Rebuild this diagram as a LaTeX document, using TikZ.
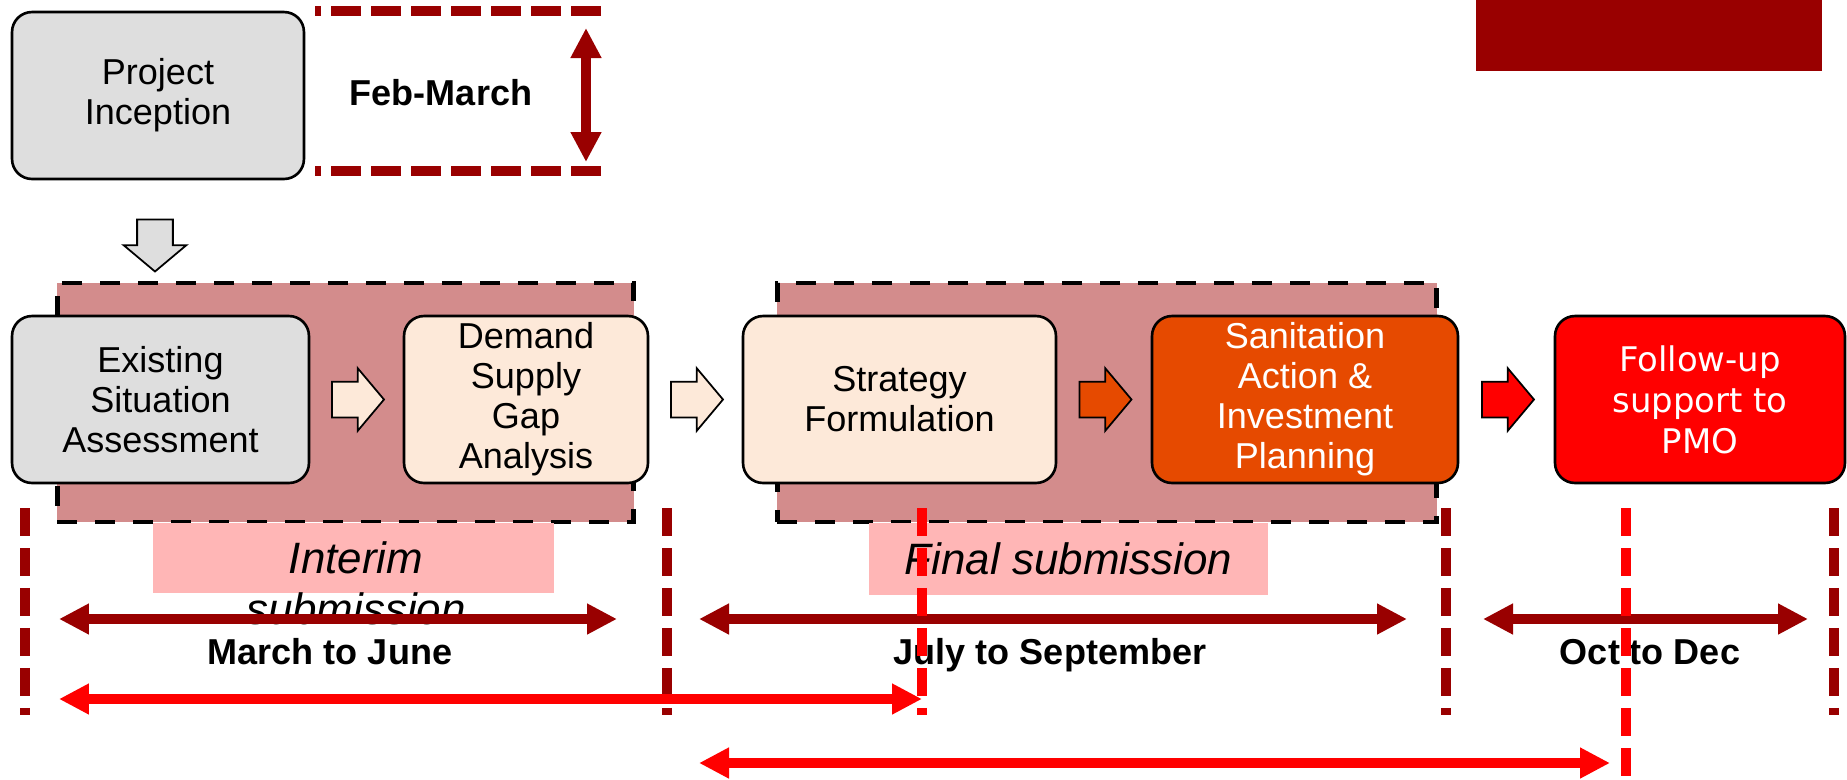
\documentclass[tikz,border=0pt]{standalone}
\usepackage{fontspec}
\setmainfont{Liberation Sans}
\newfontfamily\dejavu{DejaVu Sans}
\usepackage{tikz}
\usetikzlibrary{arrows.meta,positioning,calc,shapes.arrows}
\definecolor{darkred}{HTML}{990000}
\definecolor{brightred}{HTML}{FF0000}
\definecolor{boxgray}{HTML}{DEDEDE}
\definecolor{peach}{HTML}{FDE9D9}
\definecolor{burnt}{HTML}{E64A00}
\definecolor{rosefill}{HTML}{D38C8C}
\definecolor{pinklabel}{HTML}{FFB6B6}

\begin{document}
\begin{tikzpicture}[x=0.02cm, y=-0.02cm, every node/.style={font=\fontsize{20.5}{22.8}\selectfont}, box/.style={draw=black,line width=1.5pt,rounded corners=0.4cm,minimum height=3.34cm,align=center,inner sep=1pt}, blk/.style={single arrow,draw=black,line width=1pt,minimum height=1.04cm,single arrow head extend=0.27cm,single arrow tip angle=100,inner xsep=0pt,inner ysep=0.34cm}, grp/.style={fill=rosefill,draw=black,line width=2.8pt,dash pattern=on 0.4cm off 0.36cm,minimum height=4.78cm,inner sep=0pt}, tag/.style={fill=pinklabel,minimum height=1.4cm,inner sep=0pt}, lbl/.style={font=\fontsize{20.5}{22.8}\selectfont\bfseries,anchor=base,inner sep=0pt}, period/.style={line width=0.2cm,{Triangle[length=0.6cm,width=0.58cm]}-{Triangle[length=0.6cm,width=0.58cm]}}, gridline/.style={line width=0.2cm,dash pattern=on 0.56cm off 0.24cm}]
\useasboundingbox (0,0) rectangle (1847,779);
\node[fill=darkred,minimum width=6.92cm,minimum height=1.42cm,inner sep=0pt] (hdr) at (1649,35.5) {};
\node[grp,minimum width=11.54cm] (g1) at (345.5,402.5) {};
\node[grp,minimum width=13.2cm]  (g2) at (1107,402.5) {};

\node[box,fill=boxgray,minimum width=5.84cm] (pi) at (158,95.5) {Project\\Inception};
\coordinate (fm-tr) at (601,11);
\coordinate (fm-tl) at (315,11);
\coordinate (fm-br) at (601,171);
\coordinate (fm-bl) at (315,171);
\coordinate (fm-up) at (586,28);
\coordinate (fm-dn) at (586,162);
\draw[darkred,line width=0.19cm,dash pattern=on 0.6cm off 0.2cm] (fm-tr)--(fm-tl);
\draw[darkred,line width=0.19cm,dash pattern=on 0.6cm off 0.2cm] (fm-br)--(fm-bl);
\draw[period,darkred] (fm-up)--(fm-dn);
\node[lbl] (fm) at (441,105) {Feb-March};
\node[blk,fill=boxgray,shape border rotate=270,inner xsep=0.34cm,inner ysep=0pt,yshift=0.13cm] (dn) at (155,244.5) {};

\node[box,fill=boxgray,minimum width=5.94cm] (esa) at (160.5,399.5) {Existing\\Situation\\Assessment};
\node[box,fill=peach,minimum width=4.88cm]   (dsg) at (526,399.5)   {Demand\\Supply\\Gap\\Analysis};
\node[box,fill=peach,minimum width=6.26cm]   (sf)  at (899.5,399.5) {Strategy\\Formulation};
\node[box,fill=burnt,text=white,minimum width=6.12cm] (saip) at (1305,399.5) {Sanitation\\Action \&\\Investment\\Planning};
\node[box,fill=brightred,text=white,minimum width=5.8cm,font=\dejavu\fontsize{19.3}{23.3}\selectfont] (fus) at (1700,399.5) {Follow-up\\support to\\PMO};
\node[blk,fill=peach,xshift=-0.12cm]     (a1) at ($(esa.east)!.5!(dsg.west)$) {};
\node[blk,fill=peach,xshift=-0.12cm]     (a2) at ($(dsg.east)!.5!(sf.west)$) {};
\node[blk,fill=burnt,xshift=-0.12cm]     (a3) at ($(sf.east)!.5!(saip.west)$) {};
\node[blk,fill=brightred,xshift=-0.12cm] (a4) at ($(saip.east)!.5!(fus.west)$) {};

\node[tag,minimum width=8.02cm] (int) at (353.5,558) {};
\node[font=\itshape\fontsize{25}{29}\selectfont,align=center,inner sep=0pt] (intlbl) at (356,583) {Interim\\submission};
\node[tag,minimum width=7.98cm,minimum height=1.44cm,font=\itshape\fontsize{25}{29}\selectfont] (fin) at (1068.5,559) {Final submission};

\node[lbl] (mj) at (330,664)  {March to June};
\node[lbl] (js) at (1050,664) {July to September};
\node[lbl] (od) at (1650,664) {Oct to Dec};
\coordinate (mj-l) at (59,619);
\coordinate (mj-r) at (617,619);
\coordinate (js-l) at (699,619);
\coordinate (js-r) at (1407,619);
\coordinate (od-l) at (1483,619);
\coordinate (od-r) at (1808,619);
\draw[period,darkred] (mj-l)--(mj-r);
\draw[period,darkred] (js-l)--(js-r);
\draw[period,darkred] (od-l)--(od-r);
\foreach \x/\n in {25/v1,667/v2,1446/v3,1834/v4}{
  \coordinate (\n-t) at (\x,508);
  \coordinate (\n-b) at (\x,715);
  \draw[gridline,darkred] (\n-t)--(\n-b);
}
\coordinate (ir-l) at (59,699);
\coordinate (ir-r) at (922,699);
\coordinate (fr-l) at (699,763);
\coordinate (fr-r) at (1610,763);
\draw[period,brightred] (ir-l)--(ir-r);
\draw[period,brightred] (fr-l)--(fr-r);
\coordinate (r1-t) at (922,508);
\coordinate (r1-b) at (922,715);
\coordinate (r2-t) at (1626,508);
\coordinate (r2-b) at (1626,779);
\draw[gridline,brightred] (r1-t)--(r1-b);
\draw[gridline,brightred] (r2-t)--(r2-b);
\end{tikzpicture}
\end{document}
